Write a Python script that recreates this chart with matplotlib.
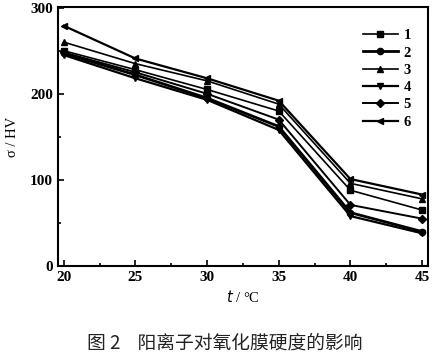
import matplotlib.pyplot as plt
from matplotlib.ticker import MultipleLocator

# temperature (deg C) and hardness values
temps = [20, 25, 30, 35, 40, 45]
s1 = [250, 228, 205, 180, 88, 65]
s2 = [247, 222, 195, 162, 62, 40]
s3 = [260, 235, 215, 188, 96, 78]
s4 = [245, 218, 193, 158, 58, 38]
s5 = [248, 225, 200, 170, 71, 55]
s6 = [279, 241, 218, 192, 101, 83]

series = [("1", s1, "s", 1.2), ("2", s2, "o", 2.0), ("3", s3, "^", 1.2),
          ("4", s4, "v", 1.6), ("5", s5, "D", 1.4), ("6", s6, "<", 1.6)]

plt.rcParams["font.family"] = ["Liberation Serif", "DejaVu Serif"]

fig = plt.figure(figsize=(4.33, 3.59), dpi=100)
ax = fig.add_axes([0.134, 0.259, 0.854, 0.722])

for name, vals, mk, lw in series:
    ax.plot(temps, vals, color="black", lw=lw, marker=mk, markersize=4.5,
            label=name)

ax.set_xlim(19.6, 45.4)
ax.set_ylim(0, 301)
ax.xaxis.set_major_locator(MultipleLocator(5))
ax.xaxis.set_minor_locator(MultipleLocator(2.5))
ax.yaxis.set_major_locator(MultipleLocator(100))
ax.yaxis.set_minor_locator(MultipleLocator(50))
ax.tick_params(which="both", direction="in", top=False, right=False,
               width=1.2, labelsize=11)
ax.tick_params(which="major", length=4)
ax.tick_params(which="minor", length=2.5)
for lab in ax.get_xticklabels() + ax.get_yticklabels():
    lab.set_fontweight("bold")
for sp in ax.spines.values():
    sp.set_linewidth(1.5)

ax.set_xlabel("$t$ / °C", fontsize=10.5, labelpad=4)
ax.set_ylabel("σ / HV", fontsize=10.5, labelpad=8)

leg = ax.legend(loc="upper right", frameon=False, fontsize=10.5,
                handlelength=2.4, handletextpad=0.4, labelspacing=0.28,
                bbox_to_anchor=(0.99, 0.965))
for t in leg.get_texts():
    t.set_fontweight("bold")

fig.text(0.518, 0.03, "图 2    阳离子对氧化膜硬度的影响", ha="center",
         fontsize=13.5, color="#222222",
         family=["Noto Sans CJK SC", "DejaVu Sans"])

fig.savefig("out.png", dpi=100)
